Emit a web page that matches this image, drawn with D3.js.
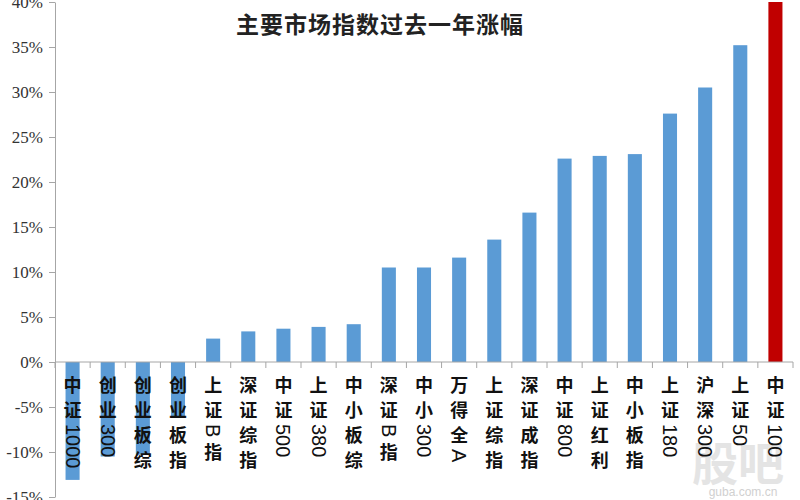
<!DOCTYPE html>
<html><head><meta charset="utf-8">
<script src="https://cdn.jsdelivr.net/npm/d3@7"></script>
<style>body{margin:0;background:#fff}svg{display:block}</style>
</head><body>
<svg id="c" width="800" height="500"></svg>
<script>
const categories = ["中证1000","创业300","创业板综","创业板指","上证B指","深证综指","中证500","上证380","中小板综","深证B指","中小300","万得全A","上证综指","深证成指","中证800","上证红利","中小板指","上证180","沪深300","上证50","中证100"];
const values = [-13.1,-10.5,-10.3,-6.2,2.6,3.4,3.7,3.9,4.2,10.5,10.5,11.6,13.6,16.6,22.6,22.9,23.1,27.6,30.5,35.2,40.0];
const highlight = ["中证100"];
const yTicks = [-15,-10,-5,0,5,10,15,20,25,30,35,40];
const title = "主要市场指数过去一年涨幅";

const svg = d3.select("#c");
const x = d3.scaleBand().domain(categories).range([55, 793]).paddingInner(0.6).paddingOuter(0.3);
const y = d3.scaleLinear().domain([-15, 40]).range([497, 2]);
const axisColor = "#a6a6a6";

// watermark (behind)
svg.append("text").attr("x", 738).attr("y", 460).attr("text-anchor", "middle").attr("dominant-baseline", "central")
  .attr("font-family", "Noto Sans CJK SC").attr("font-weight", 700).attr("font-size", 46).attr("fill", "#e4e4e4").text("股吧");
svg.append("text").attr("x", 743).attr("y", 492).attr("text-anchor", "middle").attr("dominant-baseline", "central")
  .attr("font-family", "Liberation Sans, Arial").attr("font-size", 12).attr("fill", "#d0d0d0").text("guba.com.cn");

// y axis
const yAxis = d3.axisLeft(y).tickValues(yTicks).tickSize(6).tickSizeOuter(0).tickFormat(d => d + "%");
const gy = svg.append("g").attr("transform", "translate(55,0)").call(yAxis);
gy.select(".domain").attr("stroke", axisColor);
gy.selectAll(".tick line").attr("stroke", axisColor);
gy.selectAll(".tick text").attr("font-family", "Liberation Serif, serif").attr("font-size", 17).attr("fill", "#333").attr("x", -12);

// bars
svg.append("g").selectAll("rect").data(categories).join("rect")
  .attr("x", d => x(d))
  .attr("width", x.bandwidth())
  .attr("y", (d, i) => y(Math.max(0, values[i])))
  .attr("height", (d, i) => Math.abs(y(values[i]) - y(0)))
  .attr("fill", d => highlight.includes(d) ? "#c00000" : "#5b9bd5");

// x axis at zero
const step = x.step();
const gx = svg.append("g");
gx.append("line").attr("x1", 55).attr("x2", 793).attr("y1", y(0)).attr("y2", y(0)).attr("stroke", axisColor);
gx.selectAll("line.t").data(d3.range(categories.length + 1)).join("line").attr("class", "t")
  .attr("x1", i => 55 + i * step).attr("x2", i => 55 + i * step)
  .attr("y1", y(0)).attr("y2", y(0) + 6).attr("stroke", axisColor);

// vertical category labels
const lab = svg.append("g");
categories.forEach(c => {
  const cx = x(c) + x.bandwidth() / 2;
  let cy = 372;
  const segs = c.match(/[\u4e00-\u9fff]|[A-Za-z0-9]+/g);
  segs.forEach(s => {
    if (/[\u4e00-\u9fff]/.test(s)) {
      lab.append("text").attr("x", cx).attr("y", cy + 12).attr("text-anchor", "middle")
        .attr("dominant-baseline", "central").attr("font-family", "Noto Sans CJK SC")
        .attr("font-weight", 700).attr("font-size", 18).attr("fill", "#111").text(s);
      cy += 25;
    } else {
      const t = lab.append("text").attr("transform", `translate(${cx},${cy + 2}) rotate(90)`)
        .attr("text-anchor", "start").attr("dominant-baseline", "central")
        .attr("font-family", "Liberation Sans, Arial").attr("font-size", 20).attr("fill", "#111").text(s);
      cy += t.node().getComputedTextLength() + 4;
    }
  });
});

// title
svg.append("text").attr("x", 380).attr("y", 23).attr("text-anchor", "middle").attr("dominant-baseline", "central")
  .attr("font-family", "Noto Sans CJK SC").attr("font-weight", 700).attr("font-size", 23).attr("letter-spacing", 1)
  .attr("fill", "#222").text(title);
</script>
</body></html>
